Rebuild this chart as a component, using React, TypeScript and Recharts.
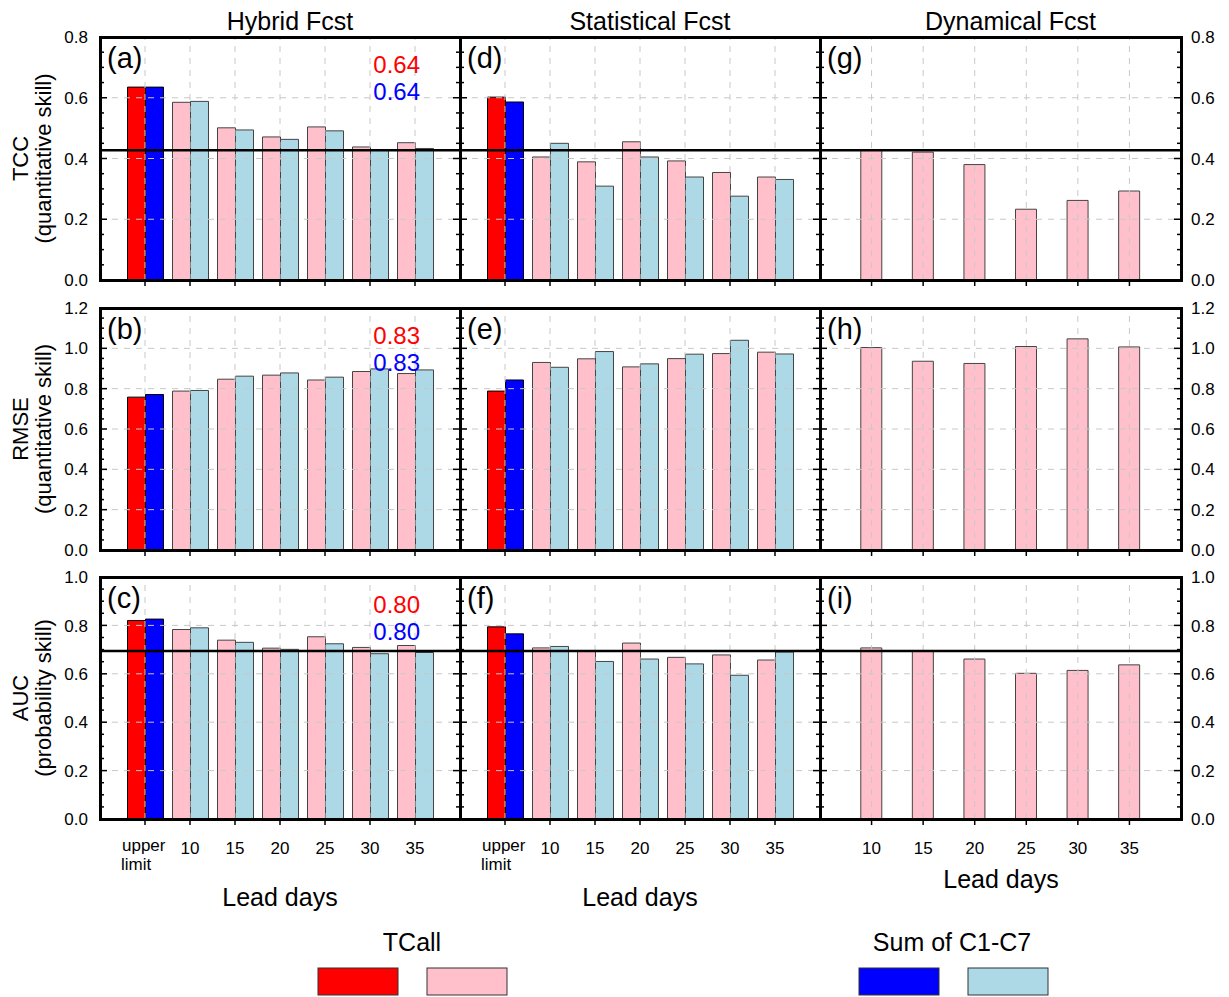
import React from 'react';
import { BarChart, Bar, XAxis, YAxis, ReferenceLine, Cell } from 'recharts';

const FONT = '"Liberation Sans", Arial, Helvetica, sans-serif';

// ---------- data ----------
const categoriesUL = ['upper limit', '10', '15', '20', '25', '30', '35'];
const categoriesDyn = ['10', '15', '20', '25', '30', '35'];

const hybridTCC_tcall = [0.635, 0.585, 0.501, 0.471, 0.504, 0.438, 0.452];
const hybridTCC_sum = [0.635, 0.588, 0.494, 0.463, 0.491, 0.428, 0.433];
const statTCC_tcall = [0.602, 0.405, 0.389, 0.455, 0.392, 0.354, 0.339];
const statTCC_sum = [0.586, 0.45, 0.309, 0.405, 0.339, 0.276, 0.331];
const dynTCC = [0.428, 0.421, 0.38, 0.233, 0.262, 0.293];

const hybridRMSE_tcall = [0.758, 0.788, 0.847, 0.867, 0.843, 0.885, 0.875];
const hybridRMSE_sum = [0.771, 0.791, 0.862, 0.878, 0.857, 0.898, 0.893];
const statRMSE_tcall = [0.788, 0.93, 0.948, 0.908, 0.949, 0.974, 0.981];
const statRMSE_sum = [0.843, 0.906, 0.984, 0.923, 0.971, 1.04, 0.972];
const dynRMSE = [1.004, 0.936, 0.925, 1.009, 1.047, 1.007];

const hybridAUC_tcall = [0.82, 0.783, 0.739, 0.706, 0.753, 0.709, 0.717];
const hybridAUC_sum = [0.826, 0.79, 0.73, 0.701, 0.724, 0.683, 0.688];
const statAUC_tcall = [0.794, 0.707, 0.694, 0.727, 0.668, 0.678, 0.657];
const statAUC_sum = [0.765, 0.713, 0.651, 0.661, 0.641, 0.594, 0.69];
const dynAUC = [0.707, 0.695, 0.661, 0.602, 0.614, 0.637];

const refTCC = 0.427;
const refAUC = 0.694;

const tickMajorTCC = [0, 0.2, 0.4, 0.6, 0.8];
const tickMajorRMSE = [0, 0.2, 0.4, 0.6, 0.8, 1.0, 1.2];
const tickMajorAUC = [0, 0.2, 0.4, 0.6, 0.8, 1.0];

const hybridScoreTcall = ['0.64', '0.83', '0.80'];
const hybridScoreSum = ['0.64', '0.83', '0.80'];

const columnTitles = ['Hybrid Fcst', 'Statistical Fcst', 'Dynamical Fcst'];
const rowTitles = ['TCC', 'RMSE', 'AUC'];
const rowSubtitles = ['(quantitative skill)', '(quantitative skill)', '(probability skill)'];
const panelLetters = [['(a)', '(d)', '(g)'], ['(b)', '(e)', '(h)'], ['(c)', '(f)', '(i)']];

// ---------- styles / layout ----------
const RED = '#ff0000';
const BLUE = '#0000ff';
const PINK = '#ffc0cb';
const LBLUE = '#add8e6';
const GRID = '#c8c8c8';

const PANEL_X = [100, 460, 820];
const PANEL_W = [360, 360, 361];
const PANEL_Y = [37, 308, 577];
const PANEL_H = [243, 242, 242];
const ML = 70;
const MT = 10;
const MR = 70;
const MB = 90;
const XAXIS_H = 30;

type RowDef = {
  max: number;
  majors: number[];
  ref?: number;
  series: { t: number[]; s: number[] }[];
  dyn: number[];
};

const rows: RowDef[] = [
  { max: 0.8, majors: tickMajorTCC, ref: refTCC, series: [{ t: hybridTCC_tcall, s: hybridTCC_sum }, { t: statTCC_tcall, s: statTCC_sum }], dyn: dynTCC },
  { max: 1.2, majors: tickMajorRMSE, series: [{ t: hybridRMSE_tcall, s: hybridRMSE_sum }, { t: statRMSE_tcall, s: statRMSE_sum }], dyn: dynRMSE },
  { max: 1.0, majors: tickMajorAUC, ref: refAUC, series: [{ t: hybridAUC_tcall, s: hybridAUC_sum }, { t: statAUC_tcall, s: statAUC_sum }], dyn: dynAUC },
];

const minorTicks = (max: number) =>
  Array.from({ length: Math.round(max / 0.05) + 1 }, (_, i) => Math.round(i * 5) / 100);

const makeYTick = (pw: number, majors: number[], side: 'left' | 'right' | 'none') => (props: any) => {
  const { y, payload } = props;
  const v = payload.value as number;
  const isMajor = majors.some((m) => Math.abs(m - v) < 1e-6);
  const len = isMajor ? 7 : 4;
  const x0 = ML;
  const x1 = ML + pw;
  return (
    <g>
      <line x1={x0} x2={x0 + len} y1={y} y2={y} stroke="#000" strokeWidth={1.5} />
      <line x1={x1 - len} x2={x1} y1={y} y2={y} stroke="#000" strokeWidth={1.5} />
      {isMajor && side === 'left' && (
        <text x={x0 - 12} y={y} dy="0.36em" textAnchor="end" fontSize={17} fontFamily={FONT} fill="#000">
          {v.toFixed(1)}
        </text>
      )}
      {isMajor && side === 'right' && (
        <text x={x1 + 10} y={y} dy="0.36em" textAnchor="start" fontSize={17} fontFamily={FONT} fill="#000">
          {v.toFixed(1)}
        </text>
      )}
    </g>
  );
};

const makeXTick = (show: boolean, plotBottom: number) => (props: any) => {
  const { x, payload } = props;
  if (!show) return <g />;
  const v = String(payload.value);
  if (v === 'upper limit') {
    return (
      <text x={x - 23} y={plotBottom + 32} fontSize={17} fontFamily={FONT} fill="#000" textAnchor="start">
        <tspan x={x - 23} dy={0}>upper</tspan>
        <tspan x={x - 24} dy={19}>limit</tspan>
      </text>
    );
  }
  return (
    <text x={x} y={plotBottom + 35} fontSize={17} fontFamily={FONT} fill="#000" textAnchor="middle">
      {v}
    </text>
  );
};

function Panel({ r, c }: { r: number; c: number }) {
  const row = rows[r];
  const pw = PANEL_W[c];
  const ph = PANEL_H[r];
  const isDyn = c === 2;
  const cats = isDyn ? categoriesDyn : categoriesUL;
  const data = isDyn
    ? cats.map((cat, i) => ({ cat, tcall: row.dyn[i] }))
    : cats.map((cat, i) => ({ cat, tcall: row.series[c].t[i], sum: row.series[c].s[i] }));
  const pad = isDyn ? pw / 14 : pw / 16;
  const gridH = row.majors.filter((m) => m > 0 && m < row.max);
  const side = c === 0 ? 'left' : c === 2 ? 'right' : 'none';

  const gridLines = [
    ...cats.map((cat) => (
      <ReferenceLine key={'gx' + cat} x={cat} stroke={GRID} strokeWidth={1} strokeDasharray="6 6" ifOverflow="visible" />
    )),
    ...gridH.map((m) => (
      <ReferenceLine key={'gy' + m} y={m} stroke={GRID} strokeWidth={1} strokeDasharray="6 6" ifOverflow="visible" />
    )),
  ];

  return (
    <>
      <div style={{ position: 'absolute', left: PANEL_X[c] - ML, top: PANEL_Y[r] - MT }}>
        <BarChart
          width={pw + ML + MR}
          height={ph + MT + MB}
          data={data}
          margin={{ top: MT, right: MR, bottom: MB - XAXIS_H, left: 0 }}
          barGap={0}
        >
          <XAxis
            dataKey="cat"
            type="category"
            height={XAXIS_H}
            interval={0}
            padding={{ left: pad, right: pad }}
            axisLine={false}
            tickSize={6}
            tickLine={{ stroke: '#000', strokeWidth: 1.5 }}
            tick={makeXTick(r === 2, MT + ph)}
          />
          <YAxis
            type="number"
            width={ML}
            domain={[0, row.max]}
            ticks={minorTicks(row.max)}
            interval={0}
            axisLine={false}
            tickLine={false}
            tick={makeYTick(pw, row.majors, side as any)}
          />
          {isDyn && gridLines}
          <Bar dataKey="tcall" barSize={isDyn ? 21 : 18} isAnimationActive={false} strokeWidth={1}>
            {data.map((_, i) => (
              <Cell key={i} fill={!isDyn && i === 0 ? RED : PINK} stroke={!isDyn && i === 0 ? '#000' : '#444'} />
            ))}
          </Bar>
          {!isDyn && (
            <Bar dataKey="sum" barSize={18} isAnimationActive={false} strokeWidth={1}>
              {data.map((_, i) => (
                <Cell key={i} fill={i === 0 ? BLUE : LBLUE} stroke={i === 0 ? '#000' : '#444'} />
              ))}
            </Bar>
          )}
          {!isDyn && gridLines}
          {row.ref !== undefined && (
            <ReferenceLine y={row.ref} stroke="#000" strokeWidth={2.5} ifOverflow="visible" />
          )}
        </BarChart>
      </div>
      <div
        style={{
          position: 'absolute',
          left: PANEL_X[c] - 1.5,
          top: PANEL_Y[r] - 1.5,
          width: pw + 3,
          height: ph + 3,
          border: '3px solid #000',
          boxSizing: 'border-box',
          pointerEvents: 'none',
        }}
      />
    </>
  );
}

function Overlay() {
  const t = { fontFamily: FONT, fill: '#000' } as const;
  return (
    <svg width={1229} height={997} style={{ position: 'absolute', left: 0, top: 0, pointerEvents: 'none' }}>
      {columnTitles.map((title, c) => (
        <text key={title} x={PANEL_X[c] + PANEL_W[c] / 2 + 10} y={30} textAnchor="middle" fontSize={25} {...t}>
          {title}
        </text>
      ))}
      {rowTitles.map((rt, r) => {
        const cy = PANEL_Y[r] + PANEL_H[r] / 2;
        return (
          <g key={rt}>
            <text x={28} y={cy} transform={`rotate(-90 28 ${cy})`} textAnchor="middle" fontSize={22} {...t}>
              {rt}
            </text>
            <text x={51} y={cy} transform={`rotate(-90 51 ${cy})`} textAnchor="middle" fontSize={22} {...t}>
              {rowSubtitles[r]}
            </text>
          </g>
        );
      })}
      {panelLetters.map((rowL, r) =>
        rowL.map((l, c) => (
          <text key={l} x={PANEL_X[c] + 7} y={PANEL_Y[r] + 31} fontSize={29} {...t}>
            {l}
          </text>
        ))
      )}
      {hybridScoreTcall.map((s, r) => (
        <g key={'sc' + r}>
          <text x={PANEL_X[0] + 320} y={PANEL_Y[r] + 36} textAnchor="end" fontSize={24} fontFamily={FONT} fill={RED}>
            {s}
          </text>
          <text x={PANEL_X[0] + 320} y={PANEL_Y[r] + 63} textAnchor="end" fontSize={24} fontFamily={FONT} fill={BLUE}>
            {hybridScoreSum[r]}
          </text>
        </g>
      ))}
      <text x={280} y={906} textAnchor="middle" fontSize={25} {...t}>Lead days</text>
      <text x={640} y={906} textAnchor="middle" fontSize={25} {...t}>Lead days</text>
      <text x={1001} y={888} textAnchor="middle" fontSize={25} {...t}>Lead days</text>

      <text x={412} y={951} textAnchor="middle" fontSize={25} {...t}>TCall</text>
      <rect x={318} y={968} width={80} height={27} fill={RED} stroke="#333" strokeWidth={1} />
      <rect x={427} y={968} width={80} height={27} fill={PINK} stroke="#333" strokeWidth={1} />
      <text x={952} y={951} textAnchor="middle" fontSize={25} {...t}>Sum of C1-C7</text>
      <rect x={859} y={968} width={80} height={27} fill={BLUE} stroke="#333" strokeWidth={1} />
      <rect x={968} y={968} width={80} height={27} fill={LBLUE} stroke="#333" strokeWidth={1} />
    </svg>
  );
}

export default function App() {
  return (
    <div style={{ position: 'absolute', left: 0, top: 0, width: 1229, height: 997, background: '#fff', overflow: 'hidden' }}>
      {[0, 1, 2].map((r) => [0, 1, 2].map((c) => <Panel key={`${r}-${c}`} r={r} c={c} />))}
      <Overlay />
    </div>
  );
}
